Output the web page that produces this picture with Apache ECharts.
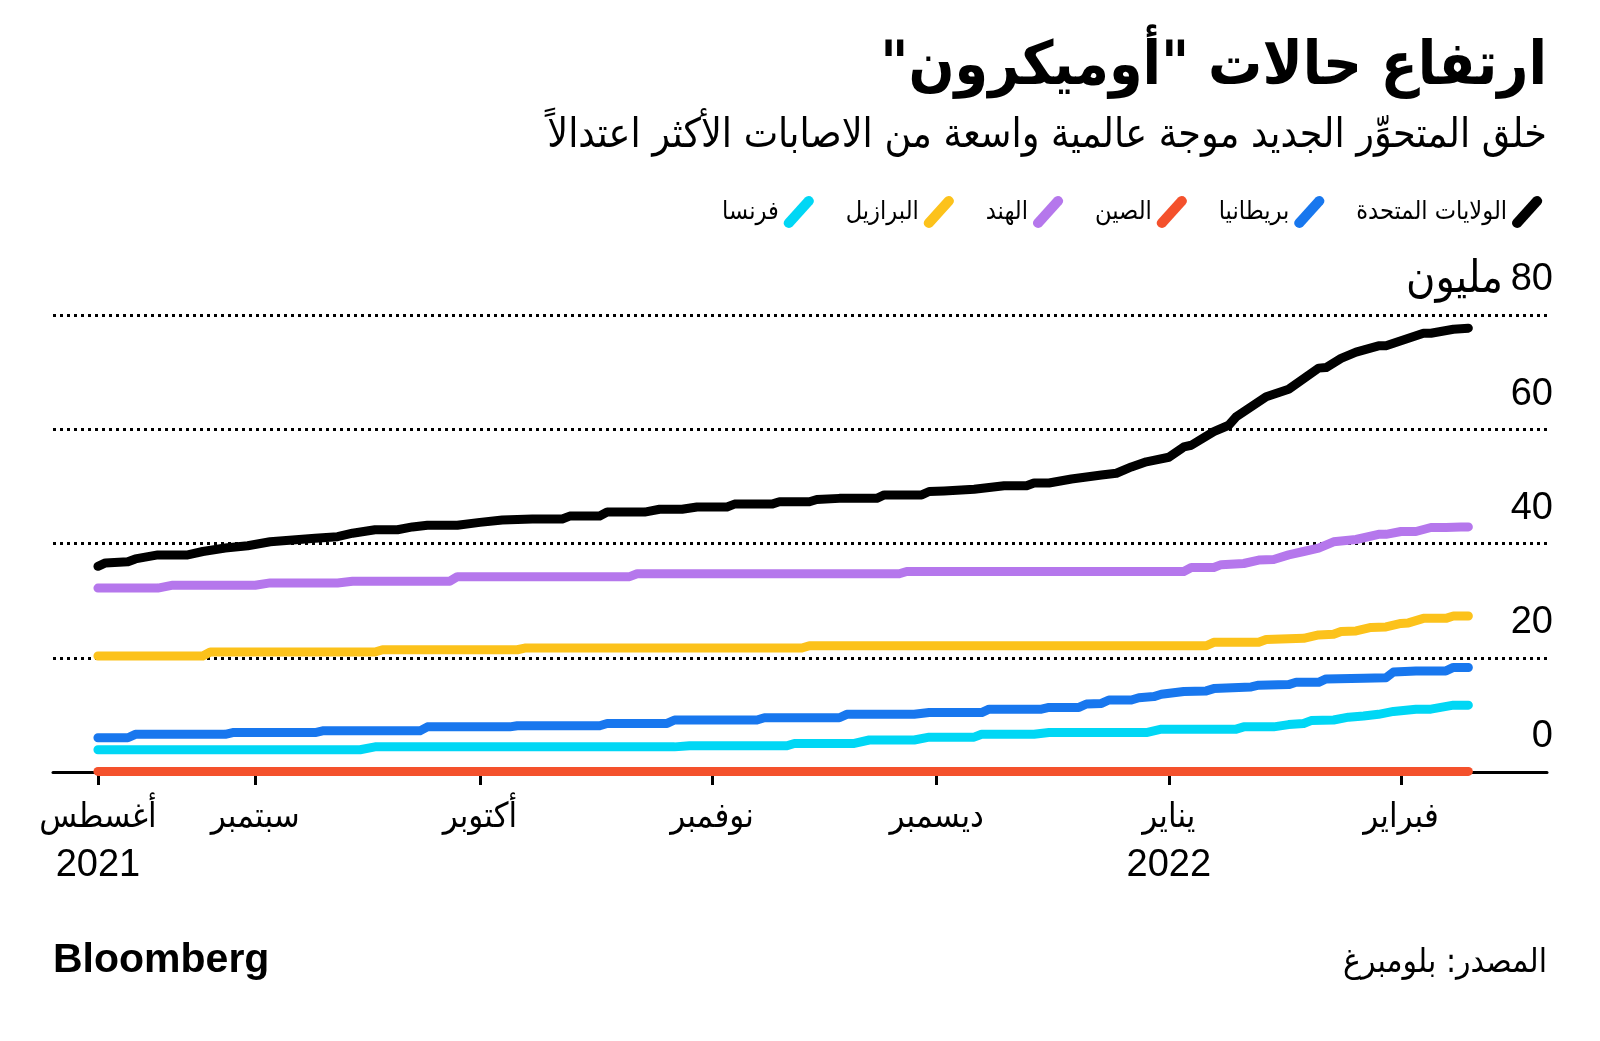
<!DOCTYPE html>
<html><head><meta charset="utf-8">
<script src="https://cdn.jsdelivr.net/npm/echarts@6/dist/echarts.min.js"></script>
<style>html,body{margin:0;padding:0;background:#fff}#c{width:1600px;height:1041px}</style>
</head><body><div id="c"></div>
<script>
// ---------- texts ----------
const titleText = 'ارتفاع حالات "أوميكرون"\u200F';
const subtitleText = 'خلق المتحوِّر الجديد موجة عالمية واسعة من الاصابات الأكثر اعتدالاً';
const sourceText = 'المصدر: بلومبرغ';
const logoText = 'Bloomberg';
const unitText = 'مليون';

// ---------- categories / ticks ----------
const seriesNames = ['الولايات المتحدة', 'بريطانيا', 'الصين', 'الهند', 'البرازيل', 'فرنسا'];
const seriesColors = ['#000000', '#1877ee', '#f4512c', '#b577ec', '#fcc21b', '#00d7f5'];
const monthNames = ['يناير','فبراير','مارس','أبريل','مايو','يونيو','يوليو','أغسطس','سبتمبر','أكتوبر','نوفمبر','ديسمبر'];
const tickDates = ['2021-08-11','2021-09-01','2021-10-01','2021-11-01','2021-12-01','2022-01-01','2022-02-01'];
const yearLabels = {'2021-08-11': '2021', '2022-01-01': '2022'};
const yTicks = [0, 20, 40, 60, 80];

// ---------- series values (cumulative cases, millions) ----------
const usCases = [
['2021-08-11',36.0],['2021-08-12',36.6],['2021-08-15',36.8],['2021-08-16',37.3],['2021-08-19',38.0],['2021-08-23',38.0],
['2021-08-25',38.6],['2021-08-28',39.2],['2021-08-31',39.6],['2021-09-03',40.3],['2021-09-06',40.6],['2021-09-09',40.9],
['2021-09-12',41.2],['2021-09-14',41.8],['2021-09-17',42.4],['2021-09-20',42.4],['2021-09-22',42.9],['2021-09-24',43.2],
['2021-09-28',43.2],['2021-10-01',43.7],['2021-10-04',44.1],['2021-10-08',44.3],['2021-10-12',44.3],['2021-10-13',44.8],
['2021-10-17',44.8],['2021-10-18',45.5],['2021-10-23',45.5],['2021-10-25',46.0],['2021-10-28',46.0],['2021-10-30',46.4],
['2021-11-03',46.4],['2021-11-04',46.9],['2021-11-09',46.9],['2021-11-10',47.3],['2021-11-14',47.3],['2021-11-15',47.7],
['2021-11-18',47.9],['2021-11-23',47.9],['2021-11-24',48.5],['2021-11-29',48.5],['2021-11-30',49.1],['2021-12-02',49.2],
['2021-12-06',49.5],['2021-12-08',49.8],['2021-12-10',50.1],['2021-12-13',50.1],['2021-12-14',50.6],['2021-12-16',50.6],
['2021-12-19',51.3],['2021-12-23',52.0],['2021-12-25',52.3],['2021-12-27',53.4],['2021-12-29',54.3],['2022-01-01',55.1],
['2022-01-03',56.9],['2022-01-04',57.2],['2022-01-07',59.6],['2022-01-09',60.7],['2022-01-10',62.2],['2022-01-14',65.7],
['2022-01-17',67.0],['2022-01-21',70.7],['2022-01-22',70.8],['2022-01-24',72.4],['2022-01-26',73.5],['2022-01-29',74.6],
['2022-01-30',74.6],['2022-02-04',76.8],['2022-02-05',76.8],['2022-02-08',77.5],['2022-02-10',77.7]
];
const ukCases = [
['2021-08-11',6.0],['2021-08-15',6.0],['2021-08-16',6.6],['2021-08-28',6.6],['2021-08-29',6.9],['2021-09-09',6.9],
['2021-09-10',7.2],['2021-09-23',7.2],['2021-09-24',7.9],['2021-10-05',7.9],['2021-10-06',8.1],['2021-10-17',8.1],
['2021-10-18',8.5],['2021-10-26',8.5],['2021-10-27',9.1],['2021-11-07',9.1],['2021-11-08',9.5],['2021-11-18',9.5],
['2021-11-19',10.1],['2021-11-28',10.1],['2021-11-30',10.4],['2021-12-07',10.4],['2021-12-08',11.0],['2021-12-15',11.0],
['2021-12-16',11.3],['2021-12-20',11.3],['2021-12-21',11.9],['2021-12-23',12.0],['2021-12-24',12.6],['2021-12-27',12.6],
['2021-12-28',13.0],['2021-12-30',13.2],['2021-12-31',13.6],['2022-01-03',14.1],['2022-01-06',14.2],['2022-01-07',14.6],
['2022-01-12',14.9],['2022-01-13',15.2],['2022-01-17',15.3],['2022-01-18',15.7],['2022-01-21',15.7],['2022-01-22',16.3],
['2022-01-27',16.4],['2022-01-30',16.5],['2022-01-31',17.5],['2022-02-03',17.7],['2022-02-07',17.7],['2022-02-08',18.3],
['2022-02-10',18.3]
];
const chinaCases = [['2021-08-11',0.1],['2021-11-01',0.1],['2022-02-10',0.1]];
const indiaCases = [
['2021-08-11',32.2],['2021-08-19',32.2],['2021-08-21',32.7],['2021-09-01',32.7],['2021-09-03',33.1],['2021-09-12',33.1],
['2021-09-14',33.4],['2021-09-27',33.4],['2021-09-28',34.2],['2021-10-21',34.2],['2021-10-22',34.7],['2021-11-26',34.7],
['2021-11-27',35.1],['2022-01-03',35.1],['2022-01-04',35.8],['2022-01-07',35.8],['2022-01-08',36.3],['2022-01-11',36.5],
['2022-01-13',37.1],['2022-01-15',37.2],['2022-01-17',38.0],['2022-01-19',38.6],['2022-01-21',39.2],['2022-01-23',40.3],
['2022-01-26',40.7],['2022-01-29',41.6],['2022-01-30',41.6],['2022-02-01',42.1],['2022-02-03',42.1],['2022-02-05',42.8],
['2022-02-07',42.8],['2022-02-09',42.9],['2022-02-10',42.9]
];
const brazilCases = [
['2021-08-11',20.3],['2021-08-25',20.3],['2021-08-26',21.0],['2021-09-17',21.0],['2021-09-18',21.4],['2021-10-06',21.4],
['2021-10-07',21.7],['2021-11-13',21.7],['2021-11-14',22.1],['2022-01-06',22.1],['2022-01-07',22.7],['2022-01-13',22.7],
['2022-01-14',23.2],['2022-01-19',23.4],['2022-01-21',24.0],['2022-01-23',24.1],['2022-01-24',24.6],['2022-01-26',24.7],
['2022-01-28',25.3],['2022-01-30',25.4],['2022-02-01',26.0],['2022-02-02',26.1],['2022-02-04',26.9],['2022-02-07',26.9],
['2022-02-08',27.3],['2022-02-10',27.3]
];
const franceCases = [
['2021-08-11',3.9],['2021-09-15',3.9],['2021-09-17',4.4],['2021-10-27',4.4],['2021-10-29',4.6],['2021-11-11',4.6],
['2021-11-12',5.0],['2021-11-20',5.0],['2021-11-22',5.6],['2021-11-28',5.6],['2021-11-30',6.1],['2021-12-06',6.1],
['2021-12-07',6.6],['2021-12-14',6.6],['2021-12-16',6.9],['2021-12-29',6.9],['2021-12-31',7.5],['2022-01-10',7.5],
['2022-01-11',7.9],['2022-01-15',7.9],['2022-01-17',8.3],['2022-01-19',8.5],['2022-01-20',9.0],['2022-01-23',9.1],
['2022-01-25',9.6],['2022-01-27',9.8],['2022-01-29',10.1],['2022-01-31',10.6],['2022-02-03',11.0],['2022-02-05',11.0],
['2022-02-08',11.7],['2022-02-10',11.7]
];
const allSeries = [usCases, ukCases, chinaCases, indiaCases, brazilCases, franceCases];

// ---------- helpers ----------
function toTime(s) { const p = s.split('-').map(Number); return new Date(p[0], p[1] - 1, p[2]).getTime(); }
function pad(n) { return (n < 10 ? '0' : '') + n; }
function keyOf(t) { const d = new Date(t); return d.getFullYear() + '-' + pad(d.getMonth() + 1) + '-' + pad(d.getDate()); }
const AR = "'DejaVu Sans Condensed', 'DejaVu Sans', sans-serif";
const LAT = "'Liberation Sans', Arial, 'DejaVu Sans Condensed', 'DejaVu Sans', sans-serif";
const mctx = document.createElement('canvas').getContext('2d');
function fit(text, weight, family, target) {
  mctx.font = weight + ' 100px ' + family;
  return 100 * target / mctx.measureText(text).width;
}
const titleSize = fit(titleText, 'bold', AR, 667);
const subSize = fit(subtitleText, 'normal', AR, 1000);
const srcSize = fit(sourceText, 'normal', AR, 204);
const legSize = fit(seriesNames[0], 'normal', AR, 151);
const monSize = fit('سبتمبر', 'normal', AR, 89);
const unitSize = fit(unitText, 'normal', AR, 97);
const numSize = 38;

const tickValues = tickDates.map(toTime);
const legendIcon = 'path://M1.66,21.99 L19.66,1.99 A4.5,4.5 0 0 1 26.34,8.01 L8.34,28.01 A4.5,4.5 0 0 1 1.66,21.99 Z';

const chart = echarts.init(document.getElementById('c'), null, {renderer: 'canvas'});
const option = {
  animation: false,
  backgroundColor: '#ffffff',
  grid: {left: 53, right: 53, top: 315, bottom: 269, containLabel: false},
  legend: {
    data: seriesNames.slice().reverse().map(n => ({name: n, icon: legendIcon})),
    right: 53, top: 191, itemWidth: 30, itemHeight: 32, itemGap: 32, align: 'right',
    selectedMode: false,
    itemStyle: {borderWidth: 0},
    textStyle: {fontSize: legSize, fontFamily: AR, color: '#000'}
  },
  xAxis: {
    type: 'value',
    min: toTime('2021-08-05'),
    max: toTime('2022-02-20') + 12 * 3600 * 1000,
    axisLine: {show: true, lineStyle: {color: '#000', width: 3}},
    axisTick: {show: true, customValues: tickValues, length: 13, lineStyle: {color: '#000', width: 3}},
    splitLine: {show: false},
    axisLabel: {
      customValues: tickValues,
      margin: 22,
      color: '#000',
      formatter: function (val) {
        const k = keyOf(val);
        const m = monthNames[new Date(val).getMonth()];
        return yearLabels[k] ? '{m|' + m + '}\n{y|' + yearLabels[k] + '}' : '{m|' + m + '}';
      },
      rich: {
        m: {fontSize: monSize, fontFamily: AR, color: '#000', lineHeight: 48},
        y: {fontSize: numSize, fontFamily: LAT, color: '#000', lineHeight: 48}
      }
    }
  },
  yAxis: {
    type: 'value', position: 'right', min: yTicks[0], max: yTicks[yTicks.length - 1], interval: 20,
    axisLine: {show: false}, axisTick: {show: false},
    splitLine: {show: true, lineStyle: {color: '#000', width: 3, type: [3, 4]}},
    axisLabel: {
      inside: true, margin: -6, align: 'right', verticalAlign: 'bottom', color: '#000',
      formatter: function (v) { return v === 80 ? '{u|' + unitText + '}{s|  }{n|' + v + '}' : '{n|' + v + '}'; },
      rich: {
        n: {fontSize: numSize, fontFamily: LAT, color: '#000', lineHeight: 70},
        u: {fontSize: unitSize, fontFamily: AR, color: '#000', lineHeight: 70},
        s: {fontSize: 14, lineHeight: 70}
      }
    }
  },
  graphic: [
    {type: 'text', x: 1547, y: 68, style: {text: titleText, font: 'bold ' + titleSize + 'px ' + AR, fill: '#000', align: 'right', verticalAlign: 'middle', textAlign: 'right', textVerticalAlign: 'middle'}},
    {type: 'text', x: 1547, y: 136, style: {text: subtitleText, font: 'normal ' + subSize + 'px ' + AR, fill: '#000', align: 'right', verticalAlign: 'middle', textAlign: 'right', textVerticalAlign: 'middle'}},
    {type: 'text', x: 53, y: 961, style: {text: logoText, font: 'bold 41px ' + LAT, fill: '#000', align: 'left', verticalAlign: 'middle', textAlign: 'left', textVerticalAlign: 'middle'}},
    {type: 'text', x: 1547, y: 963, style: {text: sourceText, font: 'normal ' + srcSize + 'px ' + AR, fill: '#000', align: 'right', verticalAlign: 'middle', textAlign: 'right', textVerticalAlign: 'middle'}}
  ],
  series: allSeries.map((arr, i) => ({
    name: seriesNames[i],
    type: 'line',
    data: arr.map(p => [toTime(p[0]), p[1]]),
    showSymbol: false,
    symbol: 'none',
    color: seriesColors[i],
    lineStyle: {color: seriesColors[i], width: 9, cap: 'round', join: 'round'},
    emphasis: {disabled: true},
    z: 3
  }))
};
chart.setOption(option);
</script></body></html>
